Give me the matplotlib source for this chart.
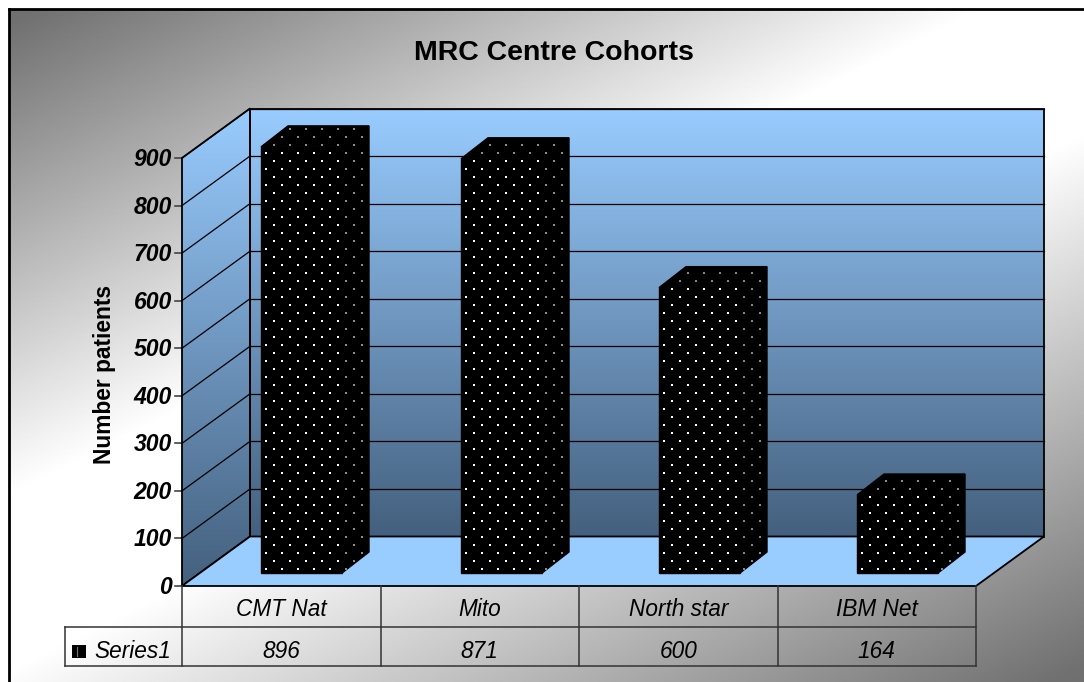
import numpy as np
import matplotlib
matplotlib.use('Agg')
import matplotlib.pyplot as plt
from matplotlib.patches import Polygon, Rectangle

plt.rcParams['font.family'] = ['Liberation Sans', 'DejaVu Sans']

categories = ['CMT Nat', 'Mito', 'North star', 'IBM Net']
values = [896, 871, 600, 164]
series_name = 'Series1'
y_ticks = [0, 100, 200, 300, 400, 500, 600, 700, 800, 900]

W, H = 1084, 682

# chart geometry, in image pixels
x0, y0 = 182, 586            # front corner of the floor
dx, dy = 68, -49.5           # depth of the box
scale = 428 / 900            # pixels per patient
cell_w = 198.5
bar_lefts = [261, 461, 659, 857]
bar_w = 81
bar_base = 573
bar_dx, bar_dy = 27, -21
wall_top = y0 + dy - 900 * scale


def val_y(v, base=y0):
    return base - v * scale


fig = plt.figure(figsize=(W / 100, H / 100), dpi=100)
ax = fig.add_axes([0, 0, 1, 1])
ax.set_axis_off()


def gradient(arr, extent, clip=None, cmap=None, zorder=1):
    im = ax.imshow(arr, extent=extent, aspect='auto', zorder=zorder, cmap=cmap,
                   vmin=0, vmax=1, interpolation='bilinear')
    if clip is not None:
        im.set_clip_path(clip)
    return im


# slide background, dark corners and a white diagonal band
xx, yy = np.meshgrid(np.linspace(0, W, 400), np.linspace(0, H, 300))
u = xx / 1000 + yy / 500
gray = np.interp(u, [0.05, 1.0, 1.35, 2.42], [0.44, 1.0, 1.0, 0.44])
gradient(gray, (0, W, H, 0), cmap='gray')
ax.add_patch(Rectangle((0, 0), W, 9, fc='white', ec='none', zorder=1.1))
ax.add_patch(Rectangle((0, 0), 9, H, fc='white', ec='none', zorder=1.1))
ax.plot([9, 9], [H, 9], color='black', lw=2, zorder=2)
ax.plot([9, W], [9, 9], color='black', lw=2, zorder=2)

# walls
top = np.array([153, 204, 255]) / 255
bottom = np.array([68, 96, 126]) / 255
ramp = np.linspace(0, 1, 200)[:, None, None]
wall = top + (bottom - top) * ramp

back = Polygon([(x0 + dx, y0 + dy), (976 + dx, y0 + dy), (976 + dx, wall_top), (x0 + dx, wall_top)],
               fc='none', ec='black', lw=1.3, zorder=3)
side = Polygon([(x0, y0), (x0 + dx, y0 + dy), (x0 + dx, wall_top), (x0, wall_top - dy)],
               fc='none', ec='black', lw=1.3, zorder=3)
floor = Polygon([(x0, y0), (976, y0), (976 + dx, y0 + dy), (x0 + dx, y0 + dy)],
                fc='#99CCFF', ec='black', lw=1.3, zorder=3)
for p in (back, side, floor):
    ax.add_patch(p)
gradient(wall, (x0 + dx, 976 + dx, y0 + dy, wall_top), clip=back, zorder=1.5)
gradient(wall, (x0, x0 + dx, y0, wall_top), clip=side, zorder=1.5)

# grid lines on the walls and tick marks
for v in y_ticks:
    y = val_y(v)
    ax.plot([x0 - 7, x0], [y, y], color='#444444', lw=1.2, zorder=2.5)
    ax.text(x0 - 10, y + 1.5, str(v), ha='right', va='center', fontsize=16.6,
            fontweight='bold', fontstyle='italic', color='black', zorder=4)
    if v > 0:
        ax.plot([x0, x0 + dx], [y, y + dy], color='black', lw=0.9, zorder=2.5)
        ax.plot([x0 + dx, 976 + dx], [y + dy, y + dy], color='black', lw=0.9, zorder=2.5)


def dots(poly, color, x_start):
    # pin dot fill, staggered rows 8 px apart
    xs, ys = poly[:, 0], poly[:, 1]
    px, py = [], []
    for i, y in enumerate(np.arange(152.7 - 32, 590, 8)):
        off = 8 if i % 2 else 0
        for x in np.arange(x_start + off - 16, xs.max() + 1, 16):
            px.append(x)
            py.append(y)
    pts = np.column_stack([px, py])
    patch = Polygon(poly, closed=True, transform=ax.transData)
    inside = patch.get_path().contains_points(pts, radius=-1.5)
    ax.scatter(pts[inside, 0], pts[inside, 1], s=2.6, marker='s', color=color,
               linewidths=0, zorder=6)


# bars, drawn as extruded boxes
for left, v in zip(bar_lefts, values):
    right = left + bar_w
    ytop = val_y(v, bar_base)
    front = np.array([(left, bar_base), (right, bar_base), (right, ytop), (left, ytop)])
    right_face = np.array([(right, bar_base), (right + bar_dx, bar_base + bar_dy),
                           (right + bar_dx, ytop + bar_dy), (right, ytop)])
    top_face = np.array([(left, ytop), (right, ytop), (right + bar_dx, ytop + bar_dy),
                         (left + bar_dx, ytop + bar_dy)])
    for face in (front, right_face, top_face):
        ax.add_patch(Polygon(face, fc='black', ec='black', lw=1, zorder=5))
    dots(front, 'white', left + 5)
    dots(right_face, '#8a8a8a', left + 5)
    dots(top_face, '#8a8a8a', left + 5)

# data table
row1, row2, row3 = y0, 627, 666
edges = [x0 + cell_w * i for i in range(5)]
line = dict(color='#333333', lw=1.1, zorder=4)
ax.plot([65, edges[-1]], [row2, row2], **line)
ax.plot([65, edges[-1]], [row3, row3], **line)
ax.plot([65, 65], [row2, row3], **line)
for e in edges:
    ax.plot([e, e], [row1, row3], **line)
for i, (c, v) in enumerate(zip(categories, values)):
    xc = edges[i] + cell_w / 2
    ax.text(xc, (row1 + row2) / 2 + 2.5, c, ha='center', va='center', fontsize=16.3,
            fontstyle='italic', zorder=4)
    ax.text(xc, (row2 + row3) / 2 + 4.5, str(v), ha='center', va='center', fontsize=16.3,
            fontstyle='italic', zorder=4)
ax.add_patch(Rectangle((72, 645), 14, 13, fc='black', ec='none', zorder=4))
ax.plot([77, 77], [647, 656], color='#777777', lw=0.8, zorder=5)
ax.text(94, (row2 + row3) / 2 + 5, series_name, ha='left', va='center', fontsize=16.3,
        fontstyle='italic', zorder=4)

ax.text(553.5, 53, 'MRC Centre Cohorts', ha='center', va='center', fontsize=20.5,
        fontweight='bold', zorder=4)
ax.text(104, 374, 'Number patients', ha='center', va='center', rotation=90, fontsize=16.4,
        fontweight='bold', zorder=4)

ax.set_xlim(0, W)
ax.set_ylim(H, 0)
fig.savefig('out.png', dpi=100)
